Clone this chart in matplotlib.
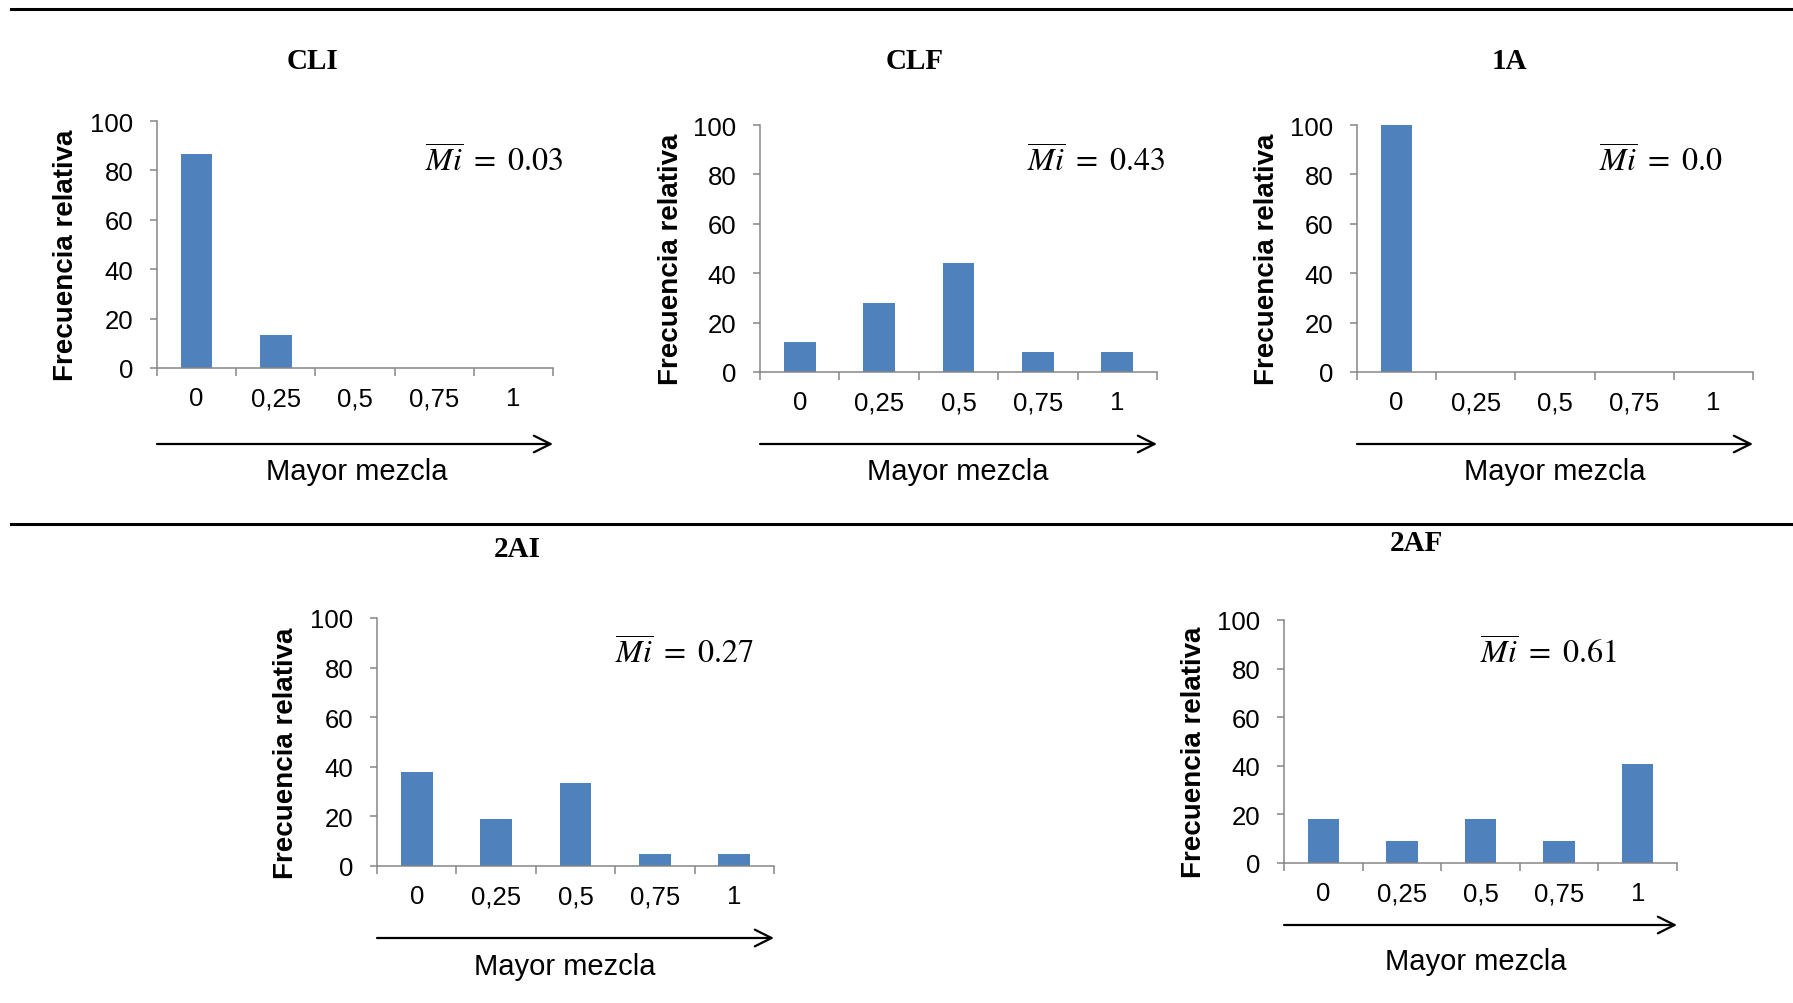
import matplotlib.pyplot as plt
import numpy as np
from matplotlib.lines import Line2D

plt.rcParams['font.family'] = 'Liberation Sans'
plt.rcParams['mathtext.fontset'] = 'stix'

W, H = 1793, 1004

categories = ['0', '0,25', '0,5', '0,75', '1']
titles = ['CLI', 'CLF', '1A', '2AI', '2AF']
cli = [86.7, 13.3, 0, 0, 0]
clf = [12, 28, 44, 8, 8]
a1 = [100, 0, 0, 0, 0]
ai2 = [38.1, 19.0, 33.3, 4.8, 4.8]
af2 = [18.2, 9.1, 18.2, 9.1, 40.9]
data = [cli, clf, a1, ai2, af2]
means = ['0.03', '0.43', '0.0', '0.27', '0.61']

# pixel layout: left, right, top (=100), bottom (=0)
boxes = [(157, 553, 122, 369), (760, 1157, 126, 373), (1357, 1753, 126, 373),
         (377, 774, 619, 867), (1284, 1677, 621, 864)]
title_pos = [(313, 62), (915, 62), (1509, 62), (517, 550), (1416, 544)]
ylab_x = [66, 671, 1267, 286, 1194]
mi_pos = [(425, 162), (1027, 162), (1599, 162), (615, 654), (1480, 654)]
arrow_y = [445, 445, 445, 939, 926]
mayor_pos = [(357, 472), (958, 472), (1555, 472), (565, 967), (1476, 962)]

def fx(x):
    return x / W

def fy(y):
    return 1 - y / H

fig = plt.figure(figsize=(17.93, 10.04), dpi=100)

grey = '#868686'
x = np.arange(len(categories))

for i in range(5):
    l, r, t, b = boxes[i]
    ax = fig.add_axes([fx(l), fy(b), (r - l) / W, (b - t) / H])
    ax.bar(x, data[i], width=0.4, color='#4F81BD')
    ax.set_xlim(-0.5, 4.5)
    ax.set_ylim(0, 100)
    ax.set_yticks(range(0, 101, 20))
    ax.set_xticks(x)
    ax.set_xticklabels(categories)
    ax.set_xticks(np.arange(-0.5, 5, 1), minor=True)
    ax.tick_params(axis='x', which='major', length=0, pad=13, labelsize=18.5)
    ax.tick_params(axis='x', which='minor', length=6, width=1.1, color=grey)
    ax.tick_params(axis='y', length=5, width=1.1, color=grey, pad=12, labelsize=18.5)
    for s in ['top', 'right']:
        ax.spines[s].set_visible(False)
    for s in ['left', 'bottom']:
        ax.spines[s].set_color(grey)
        ax.spines[s].set_linewidth(1.1)

    ax.set_ylabel('Frecuencia relativa', fontsize=20, fontweight='bold', va='center')
    ax.yaxis.set_label_coords(fx(ylab_x[i]), fy((t + b) / 2 + 10), transform=fig.transFigure)
    ax.set_xlabel('Mayor mezcla', fontsize=21, va='center')
    ax.xaxis.set_label_coords(fx(mayor_pos[i][0]), fy(mayor_pos[i][1]), transform=fig.transFigure)

    fig.text(fx(title_pos[i][0]), fy(title_pos[i][1]), titles[i], ha='center', va='center',
             fontsize=21, fontweight='bold', family='Liberation Serif')
    fig.text(fx(mi_pos[i][0]), fy(mi_pos[i][1]), r'$\overline{Mi}\ =\ %s$' % means[i],
             ha='left', va='center', fontsize=23)

    ax.annotate('', xy=(fx(r), fy(arrow_y[i])), xytext=(fx(l), fy(arrow_y[i])),
                xycoords='figure fraction', textcoords='figure fraction',
                arrowprops=dict(arrowstyle='->', lw=1.6, color='black',
                                mutation_scale=30, shrinkA=0, shrinkB=0))

# separator lines
fig.add_artist(Line2D([fx(11), 1], [fy(10), fy(10)], transform=fig.transFigure, color='black', lw=2.2))
fig.add_artist(Line2D([fx(11), 1], [fy(525), fy(525)], transform=fig.transFigure, color='black', lw=2.2))

plt.savefig('out.png', dpi=100)
